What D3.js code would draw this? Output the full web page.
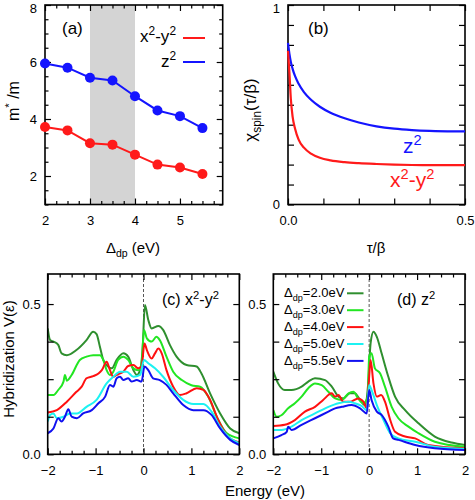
<!DOCTYPE html>
<html>
<head>
<meta charset="utf-8">
<script src="https://cdn.jsdelivr.net/npm/d3@7"></script>
<style>
  body { margin: 0; background: #fff; }
  text { font-family: "Liberation Sans", Arial, sans-serif; }
</style>
</head>
<body>
<div id="chart"></div>
<script>
// ---- data ----
// (a) effective mass vs charge-transfer energy
var deltaDp = [2.0, 2.5, 3.0, 3.5, 4.0, 4.5, 5.0, 5.5];
var massX2y2 = [3.72, 3.60, 3.15, 3.10, 2.75, 2.40, 2.30, 2.07];
var massZ2 = [5.95, 5.80, 5.45, 5.35, 4.80, 4.30, 4.10, 3.68];

// (b) spin susceptibility chi(tau/beta)
var tau = [0, 0.004, 0.008, 0.013, 0.02, 0.03, 0.045, 0.065, 0.09, 0.12, 0.16, 0.2, 0.25, 0.3, 0.35, 0.4, 0.45, 0.5];
var chiZ2 = [0.81, 0.755, 0.715, 0.68, 0.643, 0.605, 0.563, 0.525, 0.49, 0.46, 0.432, 0.411, 0.392, 0.38, 0.373, 0.369, 0.367, 0.367];
var chiX2y2 = [0.77, 0.66, 0.53, 0.44, 0.38, 0.325, 0.285, 0.255, 0.234, 0.221, 0.212, 0.207, 0.203, 0.200, 0.198, 0.197, 0.197, 0.197];

// (c) hybridization, x2-y2 orbital, [energy, V]
var hybX_20 = [[-2,0.419],[-1.95,0.38],[-1.88,0.375],[-1.78,0.364],[-1.71,0.336],[-1.6,0.33],[-1.4,0.347],[-1.19,0.38],[-1.05,0.408],[-0.98,0.40],[-0.91,0.358],[-0.84,0.314],[-0.77,0.297],[-0.66,0.286],[-0.56,0.314],[-0.42,0.336],[-0.32,0.325],[-0.21,0.28],[-0.14,0.264],[-0.07,0.28],[-0.02,0.347],[0.03,0.497],[0.1,0.447],[0.17,0.419],[0.31,0.427],[0.41,0.414],[0.55,0.364],[0.69,0.325],[0.9,0.297],[1.11,0.292],[1.21,0.269],[1.39,0.203],[1.6,0.136],[1.81,0.086],[2,0.07]];
var hybX_30 = [[-2,0.197],[-1.88,0.197],[-1.78,0.214],[-1.67,0.242],[-1.64,0.264],[-1.6,0.245],[-1.5,0.264],[-1.33,0.314],[-1.19,0.325],[-1.05,0.33],[-0.91,0.33],[-0.84,0.314],[-0.77,0.28],[-0.7,0.264],[-0.63,0.275],[-0.53,0.314],[-0.42,0.325],[-0.32,0.314],[-0.21,0.286],[-0.11,0.28],[-0.04,0.30],[0.01,0.414],[0.07,0.386],[0.17,0.375],[0.27,0.391],[0.34,0.38],[0.48,0.325],[0.62,0.275],[0.8,0.247],[1.0,0.23],[1.18,0.225],[1.35,0.192],[1.53,0.125],[1.74,0.07],[2,0.053]];
var hybX_40 = [[-2,0.139],[-1.81,0.147],[-1.6,0.175],[-1.4,0.208],[-1.29,0.225],[-1.19,0.253],[-1.05,0.26],[-0.94,0.269],[-0.87,0.28],[-0.77,0.308],[-0.7,0.28],[-0.63,0.258],[-0.56,0.264],[-0.49,0.269],[-0.42,0.275],[-0.32,0.294],[-0.21,0.297],[-0.11,0.286],[-0.04,0.292],[0.02,0.369],[0.07,0.347],[0.17,0.319],[0.24,0.336],[0.31,0.352],[0.38,0.336],[0.48,0.28],[0.62,0.225],[0.76,0.197],[0.9,0.203],[1.11,0.22],[1.25,0.214],[1.39,0.181],[1.56,0.114],[1.74,0.064],[2,0.039]];
var hybX_50 = [[-2,0.109],[-1.95,0.131],[-1.88,0.136],[-1.81,0.12],[-1.67,0.125],[-1.53,0.136],[-1.39,0.136],[-1.19,0.158],[-0.98,0.181],[-0.77,0.236],[-0.63,0.258],[-0.49,0.275],[-0.35,0.275],[-0.21,0.258],[-0.07,0.264],[0.01,0.314],[0.1,0.303],[0.24,0.286],[0.41,0.258],[0.62,0.214],[0.83,0.181],[1.04,0.167],[1.25,0.167],[1.42,0.142],[1.6,0.092],[1.81,0.053],[2,0.037]];
var hybX_55 = [[-2,0.07],[-1.88,0.086],[-1.78,0.12],[-1.71,0.109],[-1.64,0.125],[-1.57,0.15],[-1.5,0.125],[-1.39,0.12],[-1.26,0.136],[-1.08,0.147],[-0.94,0.17],[-0.8,0.192],[-0.7,0.231],[-0.63,0.225],[-0.56,0.253],[-0.49,0.258],[-0.42,0.247],[-0.32,0.253],[-0.25,0.242],[-0.14,0.247],[-0.04,0.242],[0.02,0.292],[0.1,0.28],[0.2,0.253],[0.34,0.247],[0.48,0.231],[0.62,0.203],[0.83,0.164],[1.04,0.147],[1.25,0.147],[1.42,0.131],[1.6,0.086],[1.81,0.048],[2,0.031]];

// (d) hybridization, z2 orbital, [energy, V]
var hybZ_20 = [[-2,0.275],[-1.9,0.236],[-1.76,0.214],[-1.62,0.214],[-1.41,0.225],[-1.27,0.242],[-1.13,0.253],[-0.92,0.247],[-0.78,0.225],[-0.64,0.192],[-0.54,0.186],[-0.4,0.203],[-0.3,0.203],[-0.19,0.181],[-0.09,0.164],[-0.02,0.236],[0.03,0.369],[0.09,0.408],[0.16,0.391],[0.26,0.336],[0.4,0.258],[0.54,0.192],[0.75,0.147],[1.03,0.103],[1.37,0.059],[1.72,0.039],[2,0.031]];
var hybZ_30 = [[-2,0.147],[-1.93,0.125],[-1.83,0.13],[-1.69,0.153],[-1.55,0.17],[-1.41,0.192],[-1.27,0.22],[-1.13,0.236],[-0.99,0.23],[-0.85,0.208],[-0.71,0.186],[-0.57,0.181],[-0.43,0.203],[-0.33,0.208],[-0.23,0.186],[-0.12,0.17],[-0.03,0.192],[0,0.325],[0.05,0.336],[0.12,0.286],[0.23,0.269],[0.33,0.225],[0.47,0.158],[0.61,0.12],[0.82,0.092],[1.03,0.07],[1.37,0.042],[2,0.025]];
var hybZ_40 = [[-2,0.094],[-1.76,0.098],[-1.55,0.114],[-1.34,0.142],[-1.13,0.158],[-0.96,0.181],[-0.78,0.203],[-0.71,0.192],[-0.64,0.197],[-0.54,0.175],[-0.4,0.175],[-0.23,0.186],[-0.12,0.175],[-0.05,0.153],[0,0.258],[0.03,0.314],[0.09,0.236],[0.16,0.192],[0.25,0.197],[0.33,0.175],[0.44,0.114],[0.54,0.075],[0.75,0.059],[0.96,0.053],[1.23,0.031],[2,0.02]];
var hybZ_50 = [[-2,0.081],[-1.83,0.081],[-1.62,0.092],[-1.41,0.114],[-1.13,0.136],[-0.85,0.158],[-0.64,0.17],[-0.43,0.175],[-0.3,0.17],[-0.16,0.161],[-0.05,0.147],[0,0.231],[0.05,0.214],[0.16,0.164],[0.3,0.114],[0.44,0.07],[0.61,0.053],[0.96,0.042],[1.37,0.025],[2,0.018]];
var hybZ_55 = [[-2,0.053],[-1.83,0.064],[-1.72,0.075],[-1.69,0.092],[-1.62,0.081],[-1.41,0.098],[-1.13,0.12],[-0.85,0.142],[-0.71,0.153],[-0.57,0.158],[-0.37,0.164],[-0.19,0.153],[-0.05,0.136],[0,0.214],[0.05,0.181],[0.16,0.142],[0.26,0.131],[0.4,0.092],[0.5,0.053],[0.61,0.048],[0.96,0.031],[1.37,0.02],[2,0.014]];

var legendLabels = ["Δ_{dp}=2.0eV", "Δ_{dp}=3.0eV", "Δ_{dp}=4.0eV", "Δ_{dp}=5.0eV", "Δ_{dp}=5.5eV"];
var seriesColors = ["#2f8f2f", "#22e622", "#ff1010", "#1cf2f2", "#1010f0"];

var width = 475, height = 500;

var svg = d3.select("#chart")
    .append("svg")
    .attr("width", width)
    .attr("height", height);

//text with ^sup and _sub parts, drawn as tspans
function richText(sel, str) {
    var fs = parseFloat(sel.attr("font-size"));
    var re = /([\^_])\{([^}]*)\}|([\^_])(.)|([^\^_]+)/g;
    var m, shift = 0;
    while ((m = re.exec(str))) {
        var kind = m[1] || m[3] || "";
        var txt = m[2] !== undefined ? m[2] : (m[4] !== undefined ? m[4] : m[5]);
        var target = kind === "^" ? -0.4 * fs : kind === "_" ? 0.28 * fs : 0;
        sel.append("tspan")
            .attr("dy", target - shift)
            .attr("font-size", kind ? fs * 0.7 : fs)
            .text(txt);
        shift = target;
    }
    return sel;
}

function label(x, y, str, size, opts) {
    opts = opts || {};
    var t = svg.append("text")
        .attr("x", x).attr("y", y)
        .attr("font-size", size)
        .attr("fill", opts.fill || "#000")
        .attr("text-anchor", opts.anchor || "start");
    if (opts.rotate) {
        t.attr("x", 0).attr("y", 0)
         .attr("transform", `translate(${x},${y}) rotate(-90)`);
    }
    return richText(t, str);
}

//ticks on all four sides pointing inward, labels only bottom/left
function drawFrame(x, y, o) {
    var g = svg.append("g");
    var x0 = x.range()[0], x1 = x.range()[1], y0 = y.range()[0], y1 = y.range()[1];

    function add(axis, tx, ty) {
        var a = g.append("g").attr("transform", `translate(${tx},${ty})`).call(axis);
        a.select(".domain").remove();
        a.selectAll("line").attr("stroke", "#000").attr("stroke-width", 1.2);
        a.selectAll("text").attr("font-size", 13).attr("fill", "#000")
            .style("font-family", '"Liberation Sans", Arial, sans-serif');
        return a;
    }
    add(d3.axisBottom(x).tickValues(o.xMajor).tickSize(-6).tickPadding(o.xPad).tickFormat(o.xFmt), 0, y0);
    add(d3.axisTop(x).tickValues(o.xMajor).tickSize(-6).tickFormat(""), 0, y1);
    var left = add(d3.axisLeft(y).tickValues(o.yMajor).tickSize(-6).tickPadding(o.yPad).tickFormat(o.yFmt), x0, 0);
    add(d3.axisRight(y).tickValues(o.yMajor).tickSize(-6).tickFormat(""), x1, 0);
    if (o.xMinor) {
        add(d3.axisBottom(x).tickValues(o.xMinor).tickSize(-3.5).tickFormat(""), 0, y0);
        add(d3.axisTop(x).tickValues(o.xMinor).tickSize(-3.5).tickFormat(""), 0, y1);
    }
    if (o.yMinor) {
        add(d3.axisLeft(y).tickValues(o.yMinor).tickSize(-3.5).tickFormat(""), x0, 0);
        add(d3.axisRight(y).tickValues(o.yMinor).tickSize(-3.5).tickFormat(""), x1, 0);
    }
    //the top label sits at the page edge, nudge it down like the original
    if (o.topShift) {
        var top = y.domain()[1];
        left.selectAll(".tick").filter(d => d === top).select("text")
            .attr("y", o.topShift);
    }
    g.append("rect")
        .attr("x", x0).attr("y", y1)
        .attr("width", x1 - x0).attr("height", y0 - y1)
        .attr("fill", "none").attr("stroke", "#000").attr("stroke-width", 1.6);
}

function clipFor(id, x, y) {
    svg.append("clipPath").attr("id", id).append("rect")
        .attr("x", x.range()[0]).attr("y", y.range()[1])
        .attr("width", x.range()[1] - x.range()[0])
        .attr("height", y.range()[0] - y.range()[1]);
    return "url(#" + id + ")";
}

// ---------- panel (a) ----------
var xa = d3.scaleLinear().domain([2, 5.95]).range([45, 222.7]);
var ya = d3.scaleLinear().domain([1, 8]).range([204.5, 5]);

svg.append("rect")
    .attr("x", xa(3)).attr("y", ya(8))
    .attr("width", xa(4) - xa(3)).attr("height", ya(1) - ya(8))
    .attr("fill", "#d4d4d4");

drawFrame(xa, ya, {
    xMajor: [2, 3, 4, 5], xMinor: d3.range(2.25, 5.95, 0.25).filter(d => d % 1 !== 0),
    yMajor: [2, 4, 6, 8], yMinor: d3.range(1, 8, 0.5).filter(d => d % 2 !== 0),
    xFmt: d => d3.format("d")(d), yFmt: d => d3.format("d")(d), xPad: 11, yPad: 8,
    topShift: 3.5
});

var lineA = d3.line().x((d, i) => xa(deltaDp[i])).y(d => ya(d));
[[massX2y2, "#ff1a1a"], [massZ2, "#1414ff"]].forEach(function (s) {
    svg.append("path").attr("d", lineA(s[0]))
        .attr("fill", "none").attr("stroke", s[1]).attr("stroke-width", 2);
    svg.append("g").selectAll("circle")
        .data(s[0]).join("circle")
        .attr("cx", (d, i) => xa(deltaDp[i]))
        .attr("cy", d => ya(d))
        .attr("r", 5)
        .attr("fill", s[1]);
});

label(62, 34, "(a)", 17);
label(176, 42, "x^2-y^2", 17, { anchor: "end" });
label(176, 67, "z^2", 17, { anchor: "end" });
svg.append("line").attr("x1", 183).attr("x2", 205).attr("y1", 38).attr("y2", 38)
    .attr("stroke", "#ff1a1a").attr("stroke-width", 2);
svg.append("line").attr("x1", 183).attr("x2", 205).attr("y1", 62).attr("y2", 62)
    .attr("stroke", "#1414ff").attr("stroke-width", 2);
label(133, 253, "Δ_{dp} (eV)", 15, { anchor: "middle" });
label(19, 101, "m^{*} /m", 16, { anchor: "middle", rotate: true });

// ---------- panel (b) ----------
var xb = d3.scaleLinear().domain([0, 0.5]).range([288, 465]);
var yb = d3.scaleLinear().domain([0, 1]).range([204.5, 5]);

drawFrame(xb, yb, {
    xMajor: [0, 0.1, 0.2, 0.3, 0.4, 0.5],
    yMajor: d3.range(0, 11).map(d => d / 10),
    xFmt: d => (d === 0 || d === 0.5) ? d3.format(".1f")(d) : "",
    yFmt: d => (d === 0 || d === 1) ? d3.format("d")(d) : "",
    xPad: 11, yPad: 8,
    topShift: 3.5
});

var lineB = d3.line().curve(d3.curveMonotoneX).x((d, i) => xb(tau[i])).y(d => yb(d));
svg.append("path").attr("d", lineB(chiZ2))
    .attr("fill", "none").attr("stroke", "#1414ff").attr("stroke-width", 2.2);
svg.append("path").attr("d", lineB(chiX2y2))
    .attr("fill", "none").attr("stroke", "#ff1a1a").attr("stroke-width", 2.2);

label(308, 34, "(b)", 17);
label(403, 153, "z^2", 21, { fill: "#1414ff" });
label(390, 187, "x^2-y^2", 21, { fill: "#ff1a1a" });
label(376, 253, "τ/β", 15, { anchor: "middle" });
label(256, 110, "χ_{spin}(τ/β)", 17, { anchor: "middle", rotate: true });

// ---------- panels (c) and (d) ----------
var xc = d3.scaleLinear().domain([-2, 2]).range([47.7, 239.3]);
var yc = d3.scaleLinear().domain([0, 0.6]).range([454.3, 274]);
var xd = d3.scaleLinear().domain([-2, 2]).range([273.3, 465]);
var yd = d3.scaleLinear().domain([0, 0.6]).range([454.3, 274]);

var hybOpts = {
    xMajor: [-2, -1, 0, 1, 2],
    xMinor: d3.range(-1.75, 2, 0.25).filter(d => d % 1 !== 0),
    yMajor: [0, 0.125, 0.25, 0.375, 0.5],
    xFmt: d => d3.format("d")(d),
    yFmt: d => (d === 0 || d === 0.5) ? d3.format(".1f")(d) : "",
    xPad: 11, yPad: 7
};

function hybPanel(x, y, series, id) {
    svg.append("line")
        .attr("x1", x(0)).attr("x2", x(0))
        .attr("y1", y.range()[1]).attr("y2", y.range()[0])
        .attr("stroke", "#444").attr("stroke-width", 0.9)
        .attr("stroke-dasharray", "3,2");
    var clip = clipFor(id, x, y);
    var line = d3.line().curve(d3.curveMonotoneX).x(d => x(d[0])).y(d => y(d[1]));
    svg.append("g").attr("clip-path", clip)
        .selectAll("path")
        .data(series)
        .join("path")
        .attr("d", d => line(d))
        .attr("fill", "none")
        .attr("stroke", (d, i) => seriesColors[i])
        .attr("stroke-width", 2)
        .attr("stroke-linejoin", "round");
    drawFrame(x, y, hybOpts);
}

hybPanel(xc, yc, [hybX_20, hybX_30, hybX_40, hybX_50, hybX_55], "clipc");
hybPanel(xd, yd, [hybZ_20, hybZ_30, hybZ_40, hybZ_50, hybZ_55], "clipd");

label(162, 305, "(c) x^2-y^2", 16);
label(397, 305, "(d) z^2", 16);

legendLabels.forEach(function (t, i) {
    var ly = 293.3 + i * 16.9;
    label(284, ly + 4, t, 13);
    svg.append("line")
        .attr("x1", 347).attr("x2", 363.5).attr("y1", ly).attr("y2", ly)
        .attr("stroke", seriesColors[i]).attr("stroke-width", 2);
});

label(265, 496, "Energy (eV)", 15, { anchor: "middle" });
label(14, 359, "Hybridization V(ε)", 15, { anchor: "middle", rotate: true });
</script>
</body>
</html>
